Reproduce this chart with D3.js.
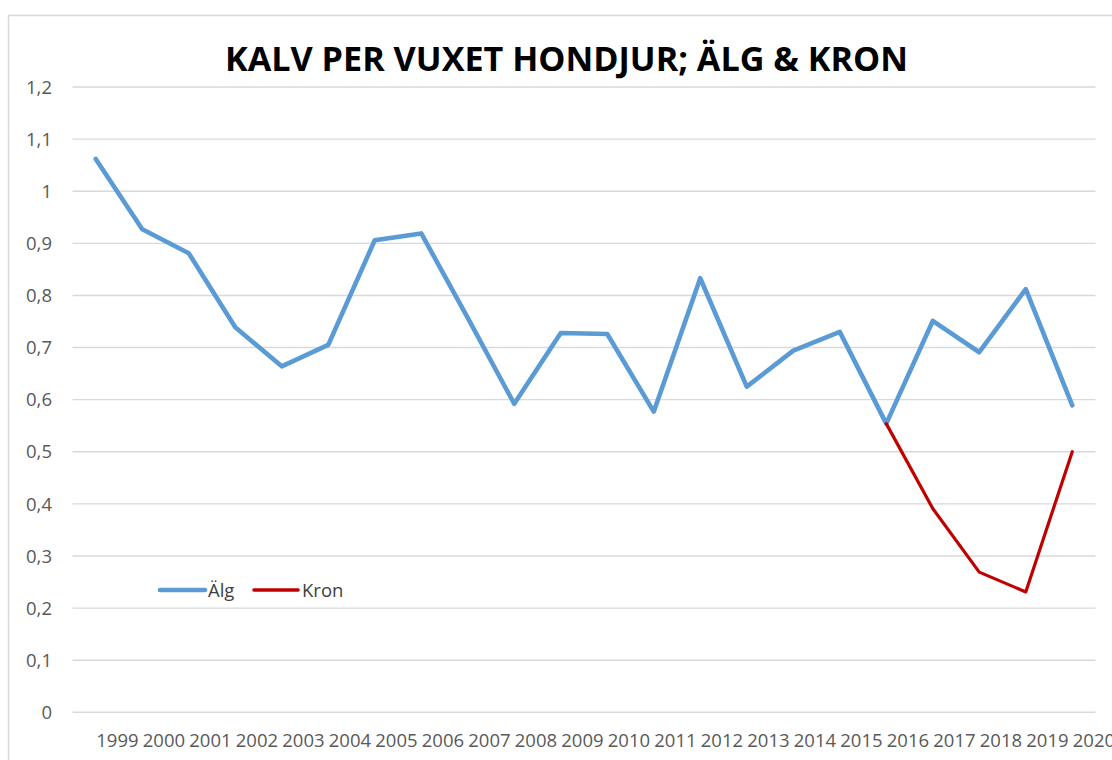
<!DOCTYPE html>
<html>
<head>
<meta charset="utf-8">
<script src="https://cdn.jsdelivr.net/npm/d3@7"></script>
<style>
  html, body { margin: 0; padding: 0; background: #ffffff; }
  svg { display: block; }
</style>
</head>
<body>
<svg id="chart" width="1112" height="760"></svg>
<script>
const years = ["1999","2000","2001","2002","2003","2004","2005","2006","2007","2008","2009","2010","2011","2012","2013","2014","2015","2016","2017","2018","2019","2020"];
const alg  = [1.062,0.927,0.881,0.739,0.664,0.705,0.906,0.919,0.757,0.592,0.728,0.726,0.577,0.833,0.625,0.694,0.730,0.554,0.751,0.691,0.812,0.589];
const kron = [null,null,null,null,null,null,null,null,null,null,null,null,null,null,null,null,null,0.554,0.391,0.269,0.231,0.500];
const yTicks = [0,0.1,0.2,0.3,0.4,0.5,0.6,0.7,0.8,0.9,1.0,1.1,1.2];
const yTickLabels = ["0","0,1","0,2","0,3","0,4","0,5","0,6","0,7","0,8","0,9","1","1,1","1,2"];
const seriesNames = ["Älg","Kron"];
const seriesColors = ["#5B9BD5","#C00000"];
const titleText = "KALV PER VUXET HONDJUR; ÄLG & KRON";

const svg = d3.select("#chart");
const FONT = "'Open Sans', 'Noto Sans', sans-serif";

// outer chart border
svg.append("rect")
  .attr("x", 8.5).attr("y", 15.5)
  .attr("width", 1300).attr("height", 900)
  .attr("fill", "#ffffff")
  .attr("stroke", "#d9d9d9").attr("stroke-width", 1.5);

const x = d3.scaleBand().domain(years).range([72.5, 1095.5]).paddingInner(0).paddingOuter(0);
const cx = d => x(d) + x.bandwidth() / 2;
const y = d3.scaleLinear().domain([0, 1.2]).range([712.3, 87]);

// gridlines
svg.append("g").selectAll("line").data(yTicks).join("line")
  .attr("x1", 72.5).attr("x2", 1095.5)
  .attr("y1", d => y(d)).attr("y2", d => y(d))
  .attr("stroke", "#d9d9d9").attr("stroke-width", 1.4);

// y tick labels
svg.append("g").selectAll("text").data(yTicks).join("text")
  .attr("x", 52).attr("y", d => y(d)).attr("dy", "0.36em")
  .attr("text-anchor", "end")
  .attr("font-family", FONT).attr("font-size", 18.5).attr("fill", "#595959")
  .text((d, i) => yTickLabels[i]);

// x tick labels (left-aligned at category point, as in the reference)
svg.append("g").selectAll("text").data(years).join("text")
  .attr("x", d => cx(d) + 0.5).attr("y", 746.5)
  .attr("text-anchor", "start")
  .attr("font-family", FONT).attr("font-size", 18.5).attr("fill", "#595959")
  .text(d => d);

// lines
const line = d3.line()
  .defined(d => d.v !== null)
  .x(d => cx(d.year))
  .y(d => y(d.v));

svg.append("path")
  .datum(years.map((yr, i) => ({year: yr, v: alg[i]})))
  .attr("d", line)
  .attr("fill", "none").attr("stroke", seriesColors[0])
  .attr("stroke-width", 4.6).attr("stroke-linejoin", "round").attr("stroke-linecap", "round");

svg.append("path")
  .datum(years.map((yr, i) => ({year: yr, v: kron[i]})))
  .attr("d", line)
  .attr("fill", "none").attr("stroke", seriesColors[1])
  .attr("stroke-width", 3.2).attr("stroke-linejoin", "round").attr("stroke-linecap", "round");

// legend
const legendItems = [
  {name: seriesNames[0], color: seriesColors[0], x1: 160, x2: 205, tx: 208, w: 4.6},
  {name: seriesNames[1], color: seriesColors[1], x1: 254, x2: 298, tx: 302, w: 3.6}
];
const lg = svg.append("g");
legendItems.forEach(it => {
  lg.append("line")
    .attr("x1", it.x1).attr("x2", it.x2).attr("y1", 590).attr("y2", 590)
    .attr("stroke", it.color).attr("stroke-width", it.w).attr("stroke-linecap", "round");
  lg.append("text")
    .attr("x", it.tx).attr("y", 596.5)
    .attr("font-family", FONT).attr("font-size", 18.5).attr("fill", "#404040")
    .text(it.name);
});

// title
svg.append("text")
  .attr("x", 225).attr("y", 71)
  .attr("text-anchor", "start")
  .attr("font-family", FONT).attr("font-weight", "bold").attr("font-size", 33.5)
  .attr("fill", "#000000")
  .attr("textLength", 683).attr("lengthAdjust", "spacingAndGlyphs")
  .text(titleText);
</script>
</body>
</html>
